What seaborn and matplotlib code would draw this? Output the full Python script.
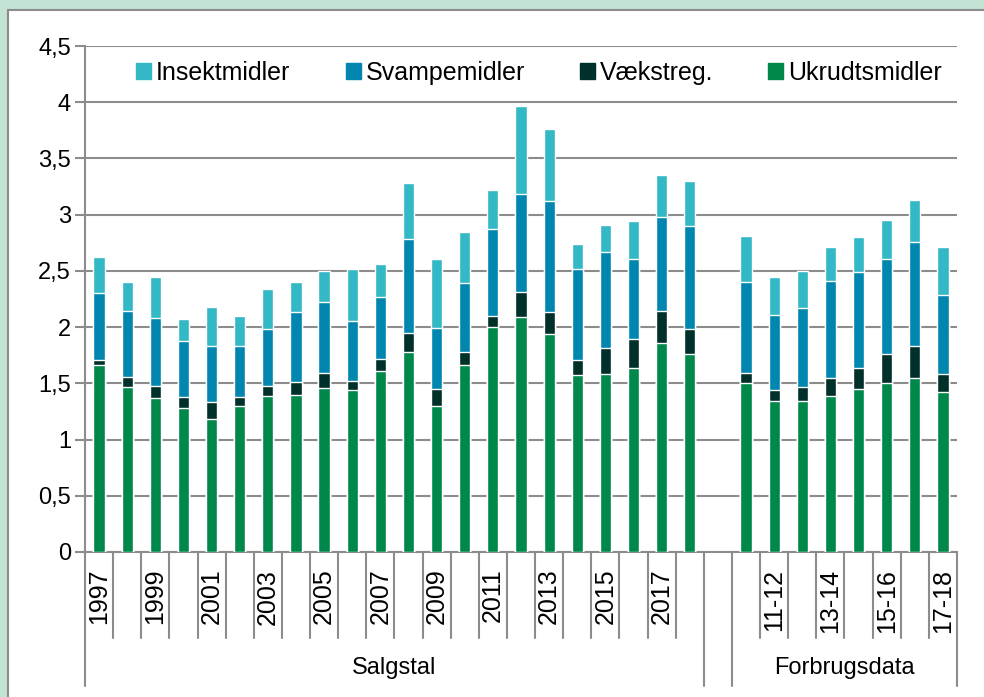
import seaborn as sns
import pandas as pd
import matplotlib.pyplot as plt
from matplotlib.patches import Patch, Rectangle

# categories (blank slot separates the two groups)
years = [str(y) for y in range(1997, 2019)]
seasons = ['10-11', '11-12', '12-13', '13-14', '14-15', '15-16', '16-17', '17-18']
cats = years + [''] + seasons
shown = ['1997', '1999', '2001', '2003', '2005', '2007', '2009', '2011', '2013', '2015', '2017',
         '11-12', '13-14', '15-16', '17-18']

# values
ukrudt = [1.66, 1.47, 1.37, 1.28, 1.18, 1.30, 1.39, 1.40, 1.46, 1.44, 1.61, 1.78, 1.30, 1.66,
          2.00, 2.09, 1.94, 1.57, 1.58, 1.64, 1.86, 1.76,
          1.50, 1.34, 1.34, 1.39, 1.45, 1.50, 1.55, 1.42]
vaekst = [0.05, 0.09, 0.11, 0.10, 0.15, 0.08, 0.09, 0.11, 0.13, 0.08, 0.11, 0.17, 0.15, 0.12,
          0.10, 0.22, 0.19, 0.14, 0.23, 0.25, 0.28, 0.22,
          0.09, 0.10, 0.13, 0.16, 0.19, 0.26, 0.28, 0.16]
svampe = [0.59, 0.58, 0.60, 0.50, 0.50, 0.45, 0.50, 0.62, 0.63, 0.53, 0.55, 0.83, 0.54, 0.61,
          0.77, 0.87, 0.99, 0.81, 0.86, 0.72, 0.84, 0.92,
          0.81, 0.67, 0.70, 0.86, 0.85, 0.85, 0.93, 0.71]
insekt = [0.32, 0.26, 0.37, 0.19, 0.35, 0.27, 0.36, 0.27, 0.28, 0.47, 0.29, 0.50, 0.62, 0.46,
          0.35, 0.79, 0.64, 0.22, 0.24, 0.33, 0.37, 0.40,
          0.41, 0.34, 0.33, 0.30, 0.31, 0.34, 0.37, 0.42]

labels = ['Insektmidler', 'Svampemidler', 'Vækstreg.', 'Ukrudtsmidler']
colors = ['#33B8C6', '#0086AF', '#00302A', '#00874A']

df = pd.DataFrame({'cat': years + seasons, 'U': ukrudt, 'V': vaekst, 'S': svampe, 'I': insekt})
df['lvl_U'] = df['U']
df['lvl_V'] = df['lvl_U'] + df['V']
df['lvl_S'] = df['lvl_V'] + df['S']
df['lvl_I'] = df['lvl_S'] + df['I']

sns.set_style('white')
plt.rcParams['font.family'] = ['Liberation Sans', 'DejaVu Sans']
plt.rcParams['text.color'] = 'black'
plt.rcParams['xtick.color'] = 'black'
plt.rcParams['ytick.color'] = 'black'

fig = plt.figure(figsize=(9.84, 6.97), dpi=100)
fig.patch.set_facecolor('#C2E2D3')
# white panel with grey frame
fig.patches.append(Rectangle((8 / 984, -0.1), 1.1, 1 - 10 / 697 + 0.1, transform=fig.transFigure,
                             facecolor='white', edgecolor='#8C8C8C', lw=1.5, zorder=-5))
ax = fig.add_axes([85 / 984, 1 - 552 / 697, (957 - 85) / 984, (552 - 46) / 697])
ax.set_facecolor('none')

# stacked bars: draw cumulative totals, tallest first
for col, c in zip(['lvl_I', 'lvl_S', 'lvl_V', 'lvl_U'], colors):
    sns.barplot(x='cat', y=col, data=df, order=cats, color=c, width=0.4,
                saturation=1, ax=ax, zorder=3)

ax.set_ylim(0, 4.5)
ax.set_xlim(-0.5, len(cats) - 0.5)
ax.set_yticks([i * 0.5 for i in range(10)])
ax.set_yticklabels(['0', '0,5', '1', '1,5', '2', '2,5', '3', '3,5', '4', '4,5'], fontsize=17)
ax.yaxis.grid(True, color='#8C8C8C', lw=1.5, zorder=0)
ax.set_axisbelow(True)
ax.tick_params(axis='y', length=7, width=1.5, color='#8C8C8C', labelcolor='black', left=True, pad=3)
ax.set_xticks(range(len(cats)))
ax.set_xticklabels([c if c in shown else '' for c in cats], rotation=90, fontsize=18)
ax.tick_params(axis='x', length=0, pad=12, labelcolor='black')
ax.set_xlabel('')
ax.set_ylabel('')
for s in ['top', 'right']:
    ax.spines[s].set_visible(False)
for s in ['left', 'bottom']:
    ax.spines[s].set_color('#8C8C8C')
    ax.spines[s].set_linewidth(1.5)

# category separators below the axis
h = 506.0
for i in range(len(cats) + 1):
    xb = i - 0.5
    low = -134 / h if i in (0, 22, 23, len(cats)) else -86 / h
    ax.plot([xb, xb], [0, low], transform=ax.get_xaxis_transform(), color='#8C8C8C',
            lw=1.5, clip_on=False)
ax.text(10.5, -116 / h, 'Salgstal', transform=ax.get_xaxis_transform(), ha='center',
        va='center', fontsize=17)
ax.text(26.5, -116 / h, 'Forbrugsdata', transform=ax.get_xaxis_transform(), ha='center',
        va='center', fontsize=17)

handles = [Patch(facecolor=c, edgecolor=c) for c in colors]
fig.legend(handles, labels, loc='center', bbox_to_anchor=(0.548, 1 - 73 / 697), ncol=4,
           frameon=False, fontsize=18, handlelength=0.6, handleheight=0.6,
           handletextpad=0.2, columnspacing=2.2)

plt.savefig('out.png', dpi=100, facecolor=fig.get_facecolor())
